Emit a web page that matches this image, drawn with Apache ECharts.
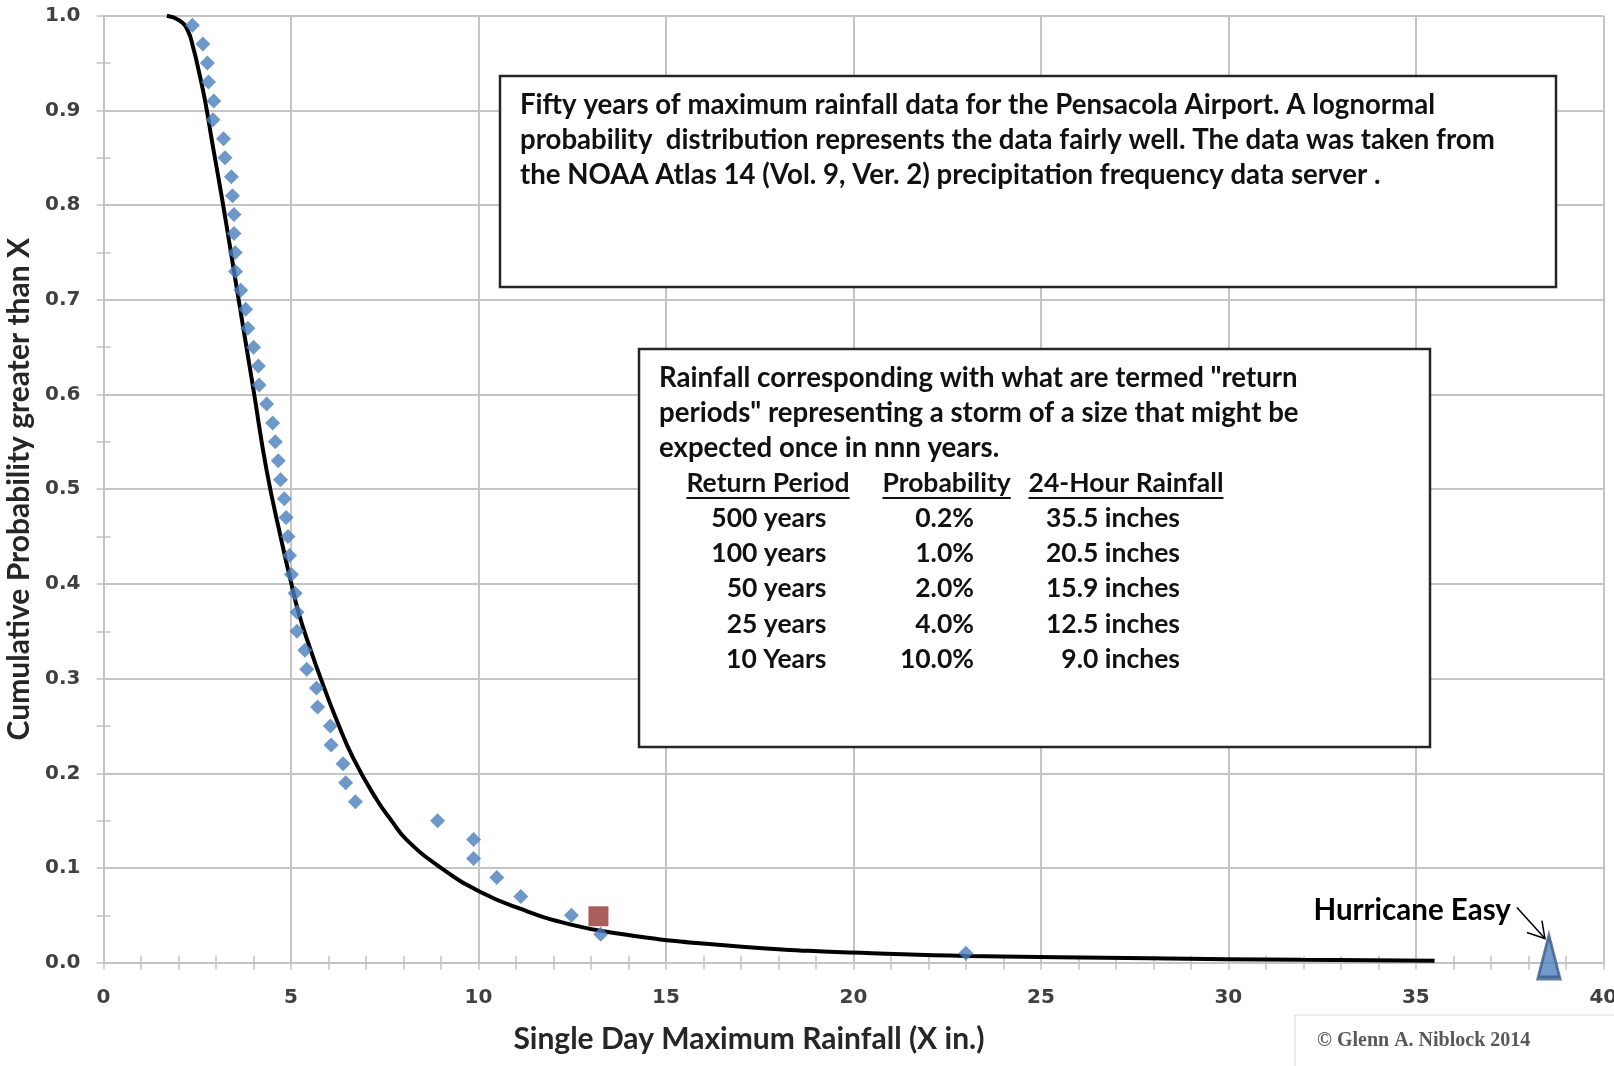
<!DOCTYPE html>
<html><head><meta charset="utf-8">
<script src="https://cdn.jsdelivr.net/npm/echarts@6/dist/echarts.min.js"></script>
<style>html,body{margin:0;padding:0;background:#fff}#c{width:1614px;height:1066px}</style>
</head><body><div id="c"></div>
<script>
// ---------------- DATA ----------------
// Observed annual maximum 1-day rainfall (inches) vs plotting-position probability
const obsProbability = [0.99,0.97,0.95,0.93,0.91,0.89,0.87,0.85,0.83,0.81,
  0.79,0.77,0.75,0.73,0.71,0.69,0.67,0.65,0.63,0.61,
  0.59,0.57,0.55,0.53,0.51,0.49,0.47,0.45,0.43,0.41,
  0.39,0.37,0.35,0.33,0.31,0.29,0.27,0.25,0.23,0.21,
  0.19,0.17,0.15,0.13,0.11,0.09,0.07,0.05,0.03,0.01];
const obsRainfall = [2.37,2.65,2.77,2.80,2.94,2.92,3.20,3.24,3.41,3.44,
  3.48,3.48,3.51,3.52,3.66,3.79,3.85,4.00,4.13,4.15,
  4.35,4.51,4.58,4.66,4.72,4.82,4.87,4.92,4.96,5.01,
  5.11,5.16,5.16,5.37,5.42,5.68,5.71,6.05,6.07,6.39,
  6.46,6.72,8.91,9.87,9.87,10.49,11.13,12.48,13.26,23.0];
// Lognormal fit curve
const fitRainfall = [1.69,2.02,2.24,2.40,2.55,2.71,2.90,3.17,3.46,3.75,4.0,4.35,4.75,
  5.0,5.2,5.5,5.86,6.22,6.66,7.29,7.68,8.08,8.97,10.04,11.11,12.44,13.77,15.9,18.79,20.5,
  23.0,27.9,31.96,35.5];
const fitProbability = [1.0,0.995,0.985,0.965,0.94,0.91,0.866,0.805,0.735,0.665,0.605,0.52,0.445,
  0.402,0.37,0.333,0.293,0.256,0.216,0.172,0.150,0.130,0.101,0.075,0.057,0.0405,0.0305,0.0205,0.0125,0.0100,
  0.0072,0.0046,0.0030,0.0021];
const highlightPoint = [13.2, 0.049];
const hurricaneEasy = [38.55, 0.0065];
// Return period table
const tableHeaders = ['Return Period', 'Probability', '24-Hour Rainfall'];
const returnPeriods = ['500 years', '100 years', '50 years', '25 years', '10 Years'];
const returnProbabilities = ['0.2%', '1.0%', '2.0%', '4.0%', '10.0%'];
const returnRainfall = ['35.5 inches', '20.5 inches', '15.9 inches', '12.5 inches', '9.0 inches'];
const note1Lines = [
  'Fifty years of maximum rainfall data for the Pensacola Airport. A lognormal',
  'probability  distribution represents the data fairly well. The data was taken from',
  'the NOAA Atlas 14 (Vol. 9, Ver. 2) precipitation frequency data server .'
];
const note2Lines = [
  'Rainfall corresponding with what are termed "return',
  'periods" representing a storm of a size that might be',
  'expected once in nnn years.'
];
const xMin = 0, xMax = 40, xStep = 5, xMinorStep = 1;
const yMin = 0, yMax = 1, yStep = 0.1, yMinorStep = 0.05;
const xTitle = 'Single Day Maximum Rainfall (X in.)';
const yTitle = 'Cumulative Probability greater than X';
const hurricaneLabel = 'Hurricane Easy';
const copyright = '\u00A9 Glenn A. Niblock 2014';

// ---------------- CHART ----------------
const FONT = 'Lato, "Noto Sans", sans-serif';
const GRID_C = '#C4C4C4';
const chart = echarts.init(document.getElementById('c'), null, {renderer: 'canvas'});

function minorAxis(inside, step, min, max, pos) {
  return {
    type: 'value', gridIndex: 0, position: pos, min: min, max: max, interval: step,
    axisLine: {show: false}, axisLabel: {show: false}, splitLine: {show: false},
    axisTick: {show: true, inside: inside, length: 7, lineStyle: {color: GRID_C, width: 1.5}}
  };
}

const measureCtx = document.createElement('canvas').getContext('2d');
function textWidth(t, font) { measureCtx.font = font; return measureCtx.measureText(t).width; }

const BODY_FONT = 'bold 27.6px ' + FONT;
const elements = [];
// Note box 1
elements.push({type: 'rect', shape: {x: 500, y: 76, width: 1056, height: 211},
  style: {fill: '#fff', stroke: '#262626', lineWidth: 2.5}, z: 100});
note1Lines.forEach((l, i) => elements.push({type: 'text', z: 101,
  style: {text: l, x: 520, y: 105 + i * 35, font: BODY_FONT, fill: '#111', textAlign: 'left', textVerticalAlign: 'middle'}}));
// Note box 2
elements.push({type: 'rect', shape: {x: 639, y: 349, width: 791, height: 398},
  style: {fill: '#fff', stroke: '#262626', lineWidth: 2.5}, z: 100});
note2Lines.forEach((l, i) => elements.push({type: 'text', z: 101,
  style: {text: l, x: 659, y: 378 + i * 35, font: BODY_FONT, fill: '#111', textAlign: 'left', textVerticalAlign: 'middle'}}));
const headerCenters = [768, 946.6, 1126];
const HEADER_FONT = 'bold 26.5px ' + FONT;
tableHeaders.forEach((h, i) => {
  const w = textWidth(h, HEADER_FONT);
  elements.push({type: 'text', z: 101,
    style: {text: h, x: headerCenters[i], y: 483, font: HEADER_FONT, fill: '#111', textAlign: 'center', textVerticalAlign: 'middle'}});
  elements.push({type: 'line', z: 101, shape: {x1: headerCenters[i] - w / 2, y1: 498, x2: headerCenters[i] + w / 2, y2: 498},
    style: {stroke: '#111', lineWidth: 1.8}});
});
const colRight = [826.5, 974, 1180];
[returnPeriods, returnProbabilities, returnRainfall].forEach((col, c) => {
  col.forEach((v, r) => elements.push({type: 'text', z: 101,
    style: {text: v, x: colRight[c], y: 518.5 + r * 35.2, font: HEADER_FONT, fill: '#111', textAlign: 'right', textVerticalAlign: 'middle'}}));
});
// Copyright box
elements.push({type: 'rect', z: 100, shape: {x: 1295, y: 1015, width: 330, height: 60},
  style: {fill: '#fff', stroke: '#D9D9D9', lineWidth: 1}});
elements.push({type: 'text', z: 101, style: {text: copyright, x: 1317, y: 1041,
  font: 'bold 20px "Liberation Serif", "DejaVu Serif", serif', fill: '#595959', textAlign: 'left', textVerticalAlign: 'middle'}});

chart.setOption({
  animation: false,
  backgroundColor: '#fff',
  grid: {left: 103.5, right: 10.7, top: 15.7, bottom: 103.3, containLabel: false, outerBoundsMode: 'none'},
  xAxis: [
    {type: 'value', gridIndex: 0, position: 'bottom', min: xMin, max: xMax, interval: xStep,
     name: xTitle, nameLocation: 'middle', nameGap: 62,
     nameTextStyle: {fontFamily: FONT, fontWeight: 'bold', fontSize: 30, color: '#262626', padding: [0, 209, 0, 0]},
     axisLine: {show: true, lineStyle: {color: GRID_C, width: 2}},
     axisTick: {show: false},
     axisLabel: {fontFamily: '"DejaVu Sans", sans-serif', fontWeight: 'bold', fontSize: 20, color: '#404040', margin: 25,
       alignMinLabel: 'center', alignMaxLabel: 'center'},
     splitLine: {show: true, lineStyle: {color: GRID_C, width: 2}}},
    minorAxis(false, xMinorStep, xMin, xMax, 'bottom'),
    minorAxis(true, xMinorStep, xMin, xMax, 'bottom')
  ],
  yAxis: [
    {type: 'value', gridIndex: 0, position: 'left', min: yMin, max: yMax, interval: yStep,
     name: yTitle, nameLocation: 'middle', nameGap: 69, nameRotate: 90,
     nameTextStyle: {fontFamily: FONT, fontWeight: 'bold', fontSize: 30, color: '#262626'},
     axisLine: {show: true, lineStyle: {color: GRID_C, width: 2}},
     axisTick: {show: false},
     axisLabel: {fontFamily: '"DejaVu Sans", sans-serif', fontWeight: 'bold', fontSize: 20, color: '#404040', margin: 23,
       formatter: v => v.toFixed(1)},
     splitLine: {show: true, lineStyle: {color: GRID_C, width: 2}}},
    minorAxis(false, yMinorStep, yMin, yMax, 'left'),
    minorAxis(true, yMinorStep, yMin, yMax, 'left')
  ],
  series: [
    {type: 'line', name: 'Lognormal', data: fitRainfall.map((x, i) => [x, fitProbability[i]]),
     showSymbol: false, smooth: 0.5, lineStyle: {color: '#000', width: 4}, z: 3, silent: true},
    {type: 'scatter', name: 'Observed', data: obsRainfall.map((x, i) => [x, obsProbability[i]]),
     symbol: 'diamond', symbolSize: 15, itemStyle: {color: '#4A7EBB'}, z: 4},
    {type: 'scatter', name: 'Highlight', data: [highlightPoint], symbol: 'rect', symbolSize: 20,
     itemStyle: {color: '#953735'}, z: 5},
    {type: 'scatter', name: 'Hurricane Easy', data: [hurricaneEasy], symbol: 'triangle', symbolSize: [22, 43],
     itemStyle: {color: '#4F81BD', borderColor: '#385D8A', borderWidth: 3.5}, z: 5}
  ],
  graphic: {elements: elements}
});

// Annotation for hurricane, anchored to its data point
const tp = chart.convertToPixel({xAxisIndex: 0, yAxisIndex: 0}, hurricaneEasy);
const tip = [tp[0] - 4, tp[1] - 18];
chart.setOption({graphic: {elements: elements.concat([
  {type: 'text', z: 101, style: {text: hurricaneLabel, x: tp[0] - 38, y: tp[1] - 46.5,
    font: 'bold 29.5px ' + FONT, fill: '#000', textAlign: 'right', textVerticalAlign: 'middle'}},
  {type: 'polyline', z: 101, shape: {points: [[tp[0] - 32, tp[1] - 49], tip]}, style: {stroke: '#000', lineWidth: 1.5, fill: null}},
  {type: 'polyline', z: 101, shape: {points: [[tip[0] - 18, tip[1] - 6], tip, [tip[0] - 3, tip[1] - 18]]}, style: {stroke: '#000', lineWidth: 1.5, fill: null}}
])}});
</script>
</body></html>
